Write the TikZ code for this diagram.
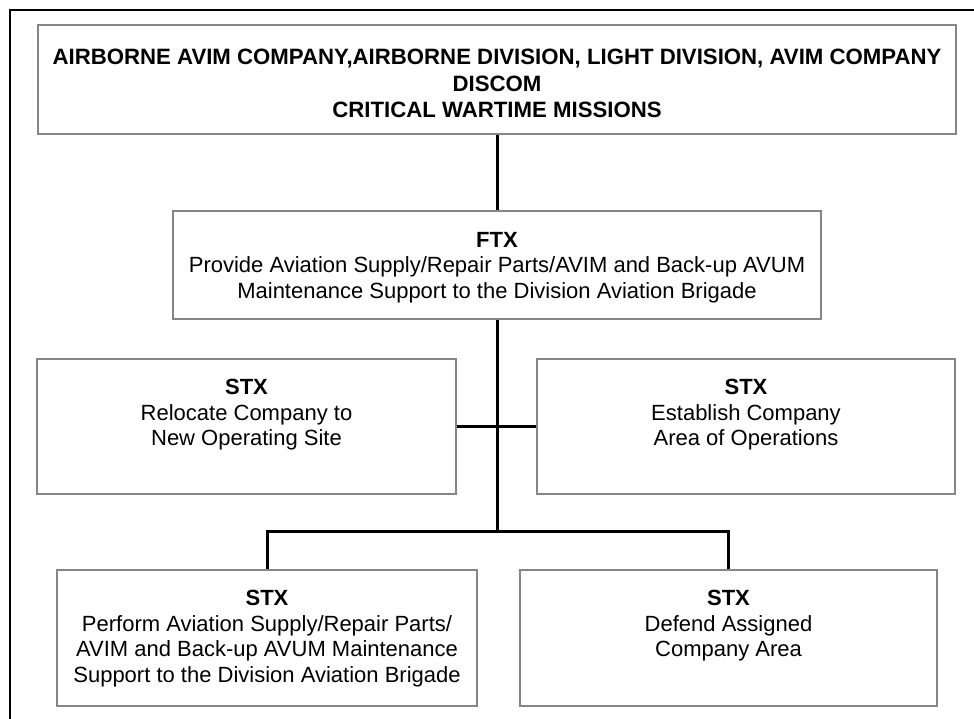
\documentclass[tikz,border=0pt]{standalone}
\usepackage{fontspec}
\setmainfont{Liberation Sans}
\definecolor{boxline}{HTML}{868686}
\begin{document}
\begin{tikzpicture}[x=1pt,y=-1pt,
  frameline/.style={line width=2pt,draw=black},
  taskbox/.style={draw=boxline,line width=2.8pt,fill=white,rectangle,inner sep=0pt},
  tasktext/.style={anchor=north,align=center,inner sep=0pt,
    font=\fontsize{22}{25.5}\selectfont},
  headtext/.style={anchor=north,align=center,inner sep=0pt,
    font=\fontsize{22.2}{26.5}\selectfont\bfseries},
  link/.style={line width=3pt,draw=black,line join=miter}]
\useasboundingbox (0,0) rectangle (974,719);

% outer frame, only its top and left edges fall inside the page
\draw[frameline] (10,730) -- (10,10) -- (985,10);

% boxes
\node[taskbox,minimum width=918pt,minimum height=109pt] (top) at (497,79.5) {};
\node[taskbox,minimum width=648pt,minimum height=108pt] (ftx) at (497,265) {};
\node[taskbox,minimum width=419pt,minimum height=135pt] (stxl) at (246.5,426.5) {};
\node[taskbox,minimum width=418pt,minimum height=135pt] (stxr) at (746,426.5) {};
\node[taskbox,minimum width=420pt,minimum height=136pt] (botl) at (267,638) {};
\node[taskbox,minimum width=417pt,minimum height=136pt] (botr) at (728.5,638) {};

% connectors
\coordinate (split) at (497,531);
\draw[link] (top.south) -- (ftx.north);
\draw[link] (ftx.south) -- (split);
\draw[link] (stxl.east) -- (stxr.west);
\draw[link] (botl.north) |- (split) -| (botr.north);

% box texts
\node[headtext] (toptext) at (497,49)
  {AIRBORNE AVIM COMPANY,AIRBORNE DIVISION, LIGHT DIVISION, AVIM COMPANY\\
   DISCOM\\
   CRITICAL WARTIME MISSIONS};
\node[tasktext] (ftxtext) at (497,232)
  {\textbf{FTX}\\
   Provide Aviation Supply/Repair Parts/AVIM and Back-up AVUM\\
   Maintenance Support to the Division Aviation Brigade};
\node[tasktext] (stxltext) at (246.5,379)
  {\textbf{STX}\\
   Relocate Company to\\
   New Operating Site};
\node[tasktext] (stxrtext) at (746,379)
  {\textbf{STX}\\
   Establish Company\\
   Area of Operations};
\node[tasktext] (botltext) at (267,590)
  {\textbf{STX}\\
   Perform Aviation Supply/Repair Parts/\\
   AVIM and Back-up AVUM Maintenance\\
   Support to the Division Aviation Brigade};
\node[tasktext] (botrtext) at (728.5,590)
  {\textbf{STX}\\
   Defend Assigned\\
   Company Area};
\end{tikzpicture}
\end{document}
